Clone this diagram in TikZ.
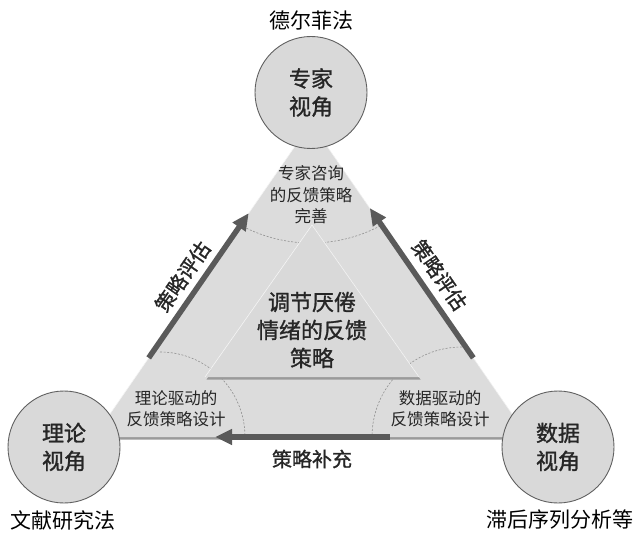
\documentclass[tikz,border=0pt]{standalone}
\usepackage{fontspec}
\newfontfamily\cjk{Noto Sans CJK SC}
\newfontfamily\cjkm[FakeBold=1.2]{Noto Sans CJK SC}
\usetikzlibrary{arrows.meta,calc}
\definecolor{trifill}{HTML}{DCDCDC}
\definecolor{innerfill}{HTML}{D9D9D9}
\definecolor{circfill}{HTML}{D9D9D9}
\definecolor{circline}{HTML}{606060}
\definecolor{arrowgray}{HTML}{5A5A5A}
\definecolor{shadowgray}{HTML}{9A9A9A}
\definecolor{arcgray}{HTML}{909090}
\tikzset{
  circnode/.style={circle, draw=circline, line width=0.9pt, fill=circfill, minimum size=112pt, inner sep=0pt, align=center, font=\cjkm\fontsize{22}{28}\selectfont, text=black!85},
  outerlabel/.style={font=\cjk\fontsize{21}{24}\selectfont, inner sep=0pt},
  cornertext/.style={align=center, font=\cjk\fontsize{16.5}{21.5}\selectfont, inner sep=0pt, text=black!85},
  centertext/.style={align=center, font=\cjkm\fontsize{22}{28}\selectfont, inner sep=0pt, text=black!85},
  edgelabel/.style={font=\cjkm\fontsize{20}{24}\selectfont, inner sep=0pt, text=black!85},
  bigarrow/.style={line width=5.5pt, draw=arrowgray, fill=arrowgray, -{Triangle[length=17pt,width=15pt]}},
  dasharc/.style={draw=arcgray, line width=0.6pt, dash pattern=on 2pt off 1.6pt},
}
\begin{document}
\begin{tikzpicture}[x=1pt,y=-1pt]
\useasboundingbox (0,0) rectangle (639,537);
% outer triangle vertices
\coordinate (L) at (94,437);
\coordinate (R) at (528,437);
\coordinate (T) at (311,123);
% shadow and outer triangle
\fill[shadowgray] ($(L)+(1.5,2.5)$) -- ($(R)+(1.5,2.5)$) -- ($(T)+(1.5,2.5)$) -- cycle;
\fill[trifill] (L) -- (R) -- (T) -- cycle;
\draw[white!92!gray, line width=0.6pt] (L) -- (T) -- (R);
% dashed arcs
\draw[dasharc] (237,223.2) arc[start angle=240, end angle=300, radius=148pt];
\draw[dasharc] (160,352) arc[start angle=90, end angle=0, radius=85pt];
\draw[dasharc] (462,347) arc[start angle=90, end angle=180, radius=90pt];
% inner triangle
\coordinate (iL) at (205,377);
\coordinate (iR) at (419,377);
\coordinate (iT) at (312,225);
\fill[shadowgray] ($(iL)+(1.5,2.5)$) -- ($(iR)+(1.5,2.5)$) -- ($(iT)+(1.5,2.5)$) -- cycle;
\fill[innerfill] (iL) -- (iR) -- (iT) -- cycle;
\draw[white!92!gray, line width=0.6pt] (iL) -- (iT) -- (iR);
% arrows along edges
\coordinate (la) at ($(L)!0.252!(T)$);
\coordinate (lb) at ($(L)!0.713!(T)$);
\coordinate (ra) at ($(R)!0.252!(T)$);
\coordinate (rb) at ($(R)!0.729!(T)$);
\coordinate (ba) at ($(R)!0.318!(L)$);
\coordinate (bb) at ($(R)!0.721!(L)$);
\draw[bigarrow] (la) -- (lb);
\draw[bigarrow] (ra) -- (rb);
\draw[bigarrow] (ba) -- (bb);
% circles
\node[circnode] (expert) at (311,92.5) {专家\\视角};
\node[circnode] (theory) at (64,447) {理论\\视角};
\node[circnode] (data) at (558,447) {数据\\视角};
% outer labels
\node[outerlabel] (delphi) at (311,20) {德尔菲法};
\node[outerlabel] (lit) at (63,520) {文献研究法};
\node[outerlabel] (lag) at (560,520) {滞后序列分析等};
% corner texts
\node[cornertext] (ctop) at (311,195) {专家咨询\\的反馈策略\\完善};
\node[cornertext] (cleft) at (176,408.5) {理论驱动的\\反馈策略设计};
\node[cornertext] (cright) at (440,408.5) {数据驱动的\\反馈策略设计};
% center
\node[centertext] (core) at (312,330) {调节厌倦\\情绪的反馈\\策略};
% edge labels
\node[edgelabel, rotate=55.4] (evalL) at (182.5,276.5) {策略评估};
\node[edgelabel, rotate=-55.4] (evalR) at (439.5,275) {策略评估};
\node[edgelabel] (supp) at (312,459) {策略补充};
\end{tikzpicture}
\end{document}
